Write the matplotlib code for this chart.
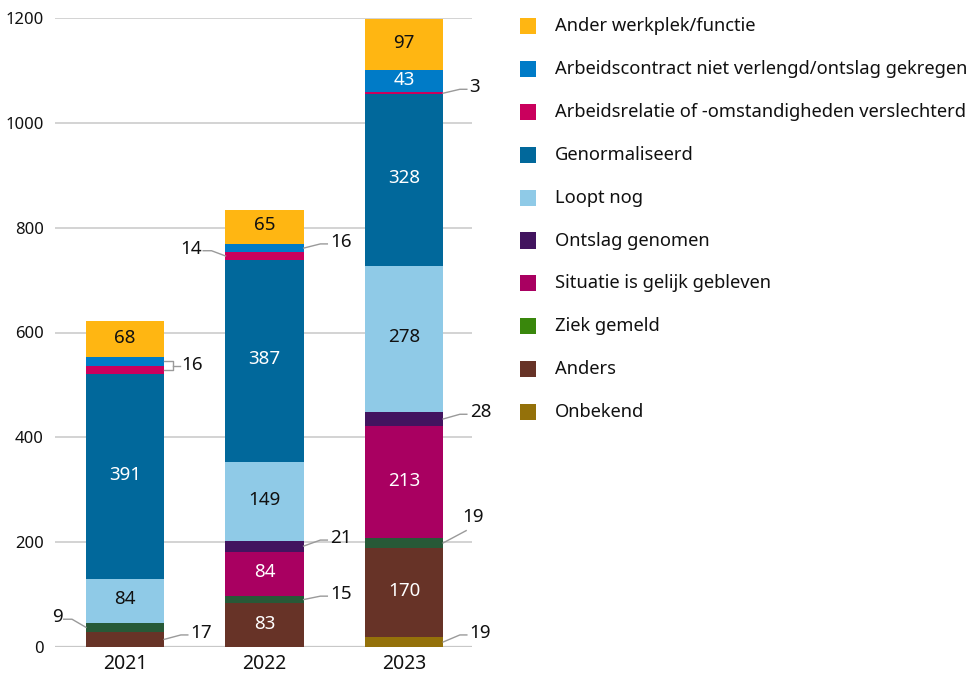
import numpy as np
import matplotlib.pyplot as plt
from matplotlib.patches import Rectangle

plt.rcParams['font.family'] = ['Noto Sans', 'DejaVu Sans']

years = ['2021', '2022', '2023']

# stack order, bottom to top
onbekend = [0, 0, 19]
anders = [29, 83, 170]
ziek_gemeld = [17, 15, 19]
situatie_gelijk = [0, 84, 213]
ontslag_genomen = [0, 21, 28]
loopt_nog = [84, 149, 278]
genormaliseerd = [391, 387, 328]
arbeidsrelatie = [16, 14, 3]
arbeidscontract = [16, 16, 43]
ander_werkplek = [68, 65, 97]

series_names = ['Onbekend', 'Anders', 'Ziek gemeld', 'Situatie is gelijk gebleven',
                'Ontslag genomen', 'Loopt nog', 'Genormaliseerd',
                'Arbeidsrelatie of -omstandigheden verslechterd',
                'Arbeidscontract niet verlengd/ontslag gekregen',
                'Ander werkplek/functie']
series_values = [onbekend, anders, ziek_gemeld, situatie_gelijk, ontslag_genomen,
                 loopt_nog, genormaliseerd, arbeidsrelatie, arbeidscontract, ander_werkplek]
bar_colors = ['#94710A', '#673327', '#275937', '#A90061', '#42145F',
              '#8FCAE7', '#01689B', '#CA005D', '#007BC7', '#FFB612']
legend_colors = ['#94710A', '#673327', '#39870C', '#A90061', '#42145F',
                 '#8FCAE7', '#01689B', '#CA005D', '#007BC7', '#FFB612']
dark_text = {'Loopt nog', 'Ander werkplek/functie'}

# labels of small segments placed outside the bars, as printed in the chart
# (year index, series, side, label y, text)
outside_labels = [
    (0, 'Anders', 'right', 27, '17'),
    (0, 'Ziek gemeld', 'left', 57, '9'),
    (1, 'Arbeidsrelatie of -omstandigheden verslechterd', 'left', 760, '14'),
    (1, 'Arbeidscontract niet verlengd/ontslag gekregen', 'right', 773, '16'),
    (1, 'Ontslag genomen', 'right', 208, '21'),
    (1, 'Ziek gemeld', 'right', 101, '15'),
    (2, 'Arbeidsrelatie of -omstandigheden verslechterd', 'right', 1068, '3'),
    (2, 'Ontslag genomen', 'right', 448, '28'),
    (2, 'Onbekend', 'right', 27, '19'),
]

W, H = 975, 673
fig = plt.figure(figsize=(W / 100, H / 100), dpi=100)
ax = fig.add_axes([55 / W, 26 / H, (472 - 55) / W, (647 - 18) / H])

x = np.arange(len(years))
bar_w = 0.56
bottom = np.zeros(len(years))
bottoms = {}
for name, vals, col in zip(series_names, series_values, bar_colors):
    vals = np.array(vals, dtype=float)
    ax.bar(x, vals, bottom=bottom, width=bar_w, color=col, linewidth=0, zorder=2)
    bottoms[name] = bottom.copy()
    for i, v in enumerate(vals):
        if v >= 40:
            tc = '#111111' if name in dark_text else 'white'
            ax.text(x[i], bottom[i] + v / 2 + 3, f'{int(v)}', ha='center', va='center',
                    fontsize=13.5, color=tc, zorder=3)
    bottom += vals

values_by_name = dict(zip(series_names, series_values))


def seg_mid(name, i):
    return bottoms[name][i] + values_by_name[name][i] / 2


line_kw = dict(color='#9a9a9a', lw=1, clip_on=False, zorder=3)
half = bar_w / 2
for i, name, side, ly, txt in outside_labels:
    mid = seg_mid(name, i)
    if side == 'right':
        x0 = x[i] + half
        ax.plot([x0, x0 + 0.12, x0 + 0.17], [mid, ly - 4, ly - 4], **line_kw)
        ax.text(x0 + 0.19, ly, txt, ha='left', va='center', fontsize=13.5, color='#111111')
    else:
        x0 = x[i] - half
        ax.plot([x0, x0 - 0.1, x0 - 0.16], [mid, ly - 4, ly - 4], **line_kw)
        ax.text(x0 - 0.17, ly, txt, ha='right', va='center', fontsize=13.5, color='#111111')

# bracket for the two thin segments of 2021
m1 = seg_mid('Arbeidscontract niet verlengd/ontslag gekregen', 0)
m2 = seg_mid('Arbeidsrelatie of -omstandigheden verslechterd', 0)
x0 = x[0] + half
ax.plot([x0, x0 + 0.065, x0 + 0.065, x0], [m1, m1, m2, m2], **line_kw)
ax.plot([x0 + 0.065, x0 + 0.115], [(m1 + m2) / 2] * 2, **line_kw)
ax.text(x0 + 0.125, (m1 + m2) / 2 + 1, '16', ha='left', va='center', fontsize=13.5,
        color='#111111')

# 2023 ziek gemeld: label sits above the leader
mz = seg_mid('Ziek gemeld', 2)
x0 = x[2] + half
ax.plot([x0, x0 + 0.165], [mz, 222], **line_kw)
ax.text(x0 + 0.135, 248, '19', ha='left', va='center', fontsize=13.5, color='#111111')

ax.set_xlim(-0.502, 2.487)
ax.set_ylim(0, 1200)
ax.set_xticks(x)
ax.set_xticklabels(years, fontsize=14, color='#111111')
ax.set_yticks(range(0, 1201, 200))
ax.tick_params(axis='y', length=0, pad=8, labelsize=12, labelcolor='#111111')
ax.tick_params(axis='x', length=0, pad=5)
ax.yaxis.grid(True, color='#cccccc', lw=1.2, zorder=0)
ax.set_axisbelow(True)
for s in ax.spines.values():
    s.set_visible(False)
ax.axhline(0, color='#c8c8c8', lw=1.6, zorder=1)

# legend, top to bottom
for k, (name, col) in enumerate(zip(series_names[::-1], legend_colors[::-1])):
    cy = 26 + k * 42.9
    fig.add_artist(Rectangle((520 / W, 1 - (cy + 8) / H), 16 / W, 16 / H,
                             transform=fig.transFigure, color=col, lw=0))
    fig.text(555 / W, 1 - cy / H, name, ha='left', va='center', fontsize=13.2,
             color='#111111')

fig.savefig('out.png', dpi=100)
